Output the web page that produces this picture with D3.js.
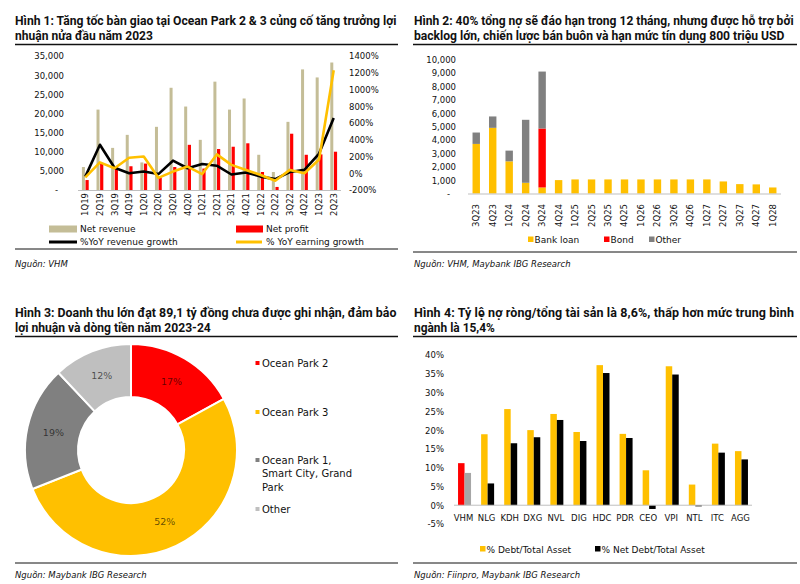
<!DOCTYPE html>
<html><head><meta charset="utf-8">
<script src="https://cdn.jsdelivr.net/npm/d3@7"></script>
<style>
html,body{margin:0;padding:0;background:#fff;}
svg{display:block;}
.ax{font-family:"DejaVu Sans",sans-serif;font-size:8.5px;fill:#111;}
.lg{font-family:"DejaVu Sans",sans-serif;font-size:9px;fill:#111;}
.src{font-family:"DejaVu Sans",sans-serif;font-size:8.5px;font-style:italic;fill:#111;}
.ttl{font-family:Roboto,"Open Sans",sans-serif;font-size:12.5px;font-weight:700;fill:#111;}
</style></head>
<body>
<svg id="c" width="800" height="584"></svg>
<script>
// ---------- Chart 1 data ----------
const quarters1 = ["1Q19","2Q19","3Q19","4Q19","1Q20","2Q20","3Q20","4Q20","1Q21","2Q21","3Q21","4Q21","1Q22","2Q22","3Q22","4Q22","1Q23","2Q23"];
const netRevenue = [6000,21000,11000,14400,7200,16500,26700,21800,13100,28300,21000,23900,9200,4700,17800,31500,29400,33300];
const netProfit  = [2600,6800,6000,6200,6900,3200,6000,11800,5600,10700,11300,12200,4700,800,14700,9200,9300,10000];
const revenueGrowth = [-40,340,65,0,20,-10,150,60,110,90,-15,10,-40,-70,15,40,235,660];
const earningGrowth = [-50,130,60,185,200,-55,20,80,-10,225,100,40,-20,-90,40,0,165,1230];
const ticksLeft1 = [0,5000,10000,15000,20000,25000,30000,35000];
const ticksRight1 = [-200,0,200,400,600,800,1000,1200,1400];

// ---------- Chart 2 data ----------
const quarters2 = ["3Q23","4Q23","1Q24","2Q24","3Q24","4Q24","1Q25","2Q25","3Q25","4Q25","1Q26","2Q26","3Q26","4Q26","1Q27","2Q27","3Q27","4Q27","1Q28"];
const bankLoan = [3700,4900,2400,800,450,1000,1050,1050,1050,1050,1050,1050,1050,1050,1050,900,700,680,450];
const bond     = [0,0,0,0,4400,0,0,0,0,0,0,0,0,0,0,0,0,0,0];
const other    = [850,850,800,4700,4250,0,0,0,0,0,0,0,0,0,0,0,0,0,0];
const ticks2 = [0,1000,2000,3000,4000,5000,6000,7000,8000,9000,10000];

// ---------- Chart 3 data ----------
const donutLabels = ["Ocean Park 2","Ocean Park 3","Ocean Park 1, Smart City, Grand Park","Other"];
const donutValues = [17,52,19,12];

// ---------- Chart 4 data ----------
const companies = ["VHM","NLG","KDH","DXG","NVL","DIG","HDC","PDR","CEO","VPI","NTL","ITC","AGG"];
const debtRatio    = [11.2,18.9,25.6,20.0,24.3,19.5,37.3,19.0,9.3,37.0,5.5,16.4,14.4];
const netDebtRatio = [8.6,5.8,16.5,18.1,22.7,17.1,35.2,17.9,-1.0,34.8,-0.3,14.0,12.2];
const ticks4 = [-5,0,5,10,15,20,25,30,35,40];

const svg = d3.select("#c");
const fmt = d3.format(",");

function title(x, y, txt, w){
  const t = svg.append("text").attr("class","ttl").attr("x",0).attr("y",0).text(txt);
  const n = t.node().getComputedTextLength();
  if (n > w) {
    t.attr("transform",`translate(${x},${y}) scale(${w/n},1)`);
  } else {
    t.attr("transform",`translate(${x},${y})`).attr("textLength", w).attr("lengthAdjust","spacing");
  }
}
function rule(x1,x2,y,sw){ svg.append("line").attr("x1",x1).attr("x2",x2).attr("y1",y).attr("y2",y).attr("stroke","#111").attr("stroke-width",sw); }
function source(x,y,txt){ svg.append("text").attr("class","src").attr("x",x).attr("y",y).text(txt); }

// ================= Chart 1 =================
title(15,25,"Hình 1: Tăng tốc bàn giao tại Ocean Park 2 & 3 củng cố tăng trưởng lợi",382);
title(15,40,"nhuận nửa đầu năm 2023",138);
rule(15,398,44.5,1.6);
{
  const x = d3.scaleBand().domain(quarters1).range([78,341]);
  const yL = d3.scaleLinear().domain([0,35000]).range([190,56]);
  const yR = d3.scaleLinear().domain([-200,1400]).range([190,56]);
  const g = svg.append("g");
  const c = q => x(q) + x.bandwidth()/2;
  g.selectAll(".rv").data(quarters1).join("rect")
    .attr("x",q=>c(q)-3.4).attr("width",3).attr("y",(q,i)=>yL(netRevenue[i])).attr("height",(q,i)=>yL(0)-yL(netRevenue[i])).attr("fill","#c4bd97");
  g.selectAll(".np").data(quarters1).join("rect")
    .attr("x",q=>c(q)+0.2).attr("width",3.2).attr("y",(q,i)=>yL(netProfit[i])).attr("height",(q,i)=>yL(0)-yL(netProfit[i])).attr("fill","#ff0000");
  g.append("line").attr("x1",78).attr("x2",341).attr("y1",190.5).attr("y2",190.5).attr("stroke","#bfbfbf");
  const ln = arr => d3.line().x((d,i)=>c(quarters1[i])).y(d=>yR(d))(arr);
  g.append("path").attr("d",ln(revenueGrowth)).attr("fill","none").attr("stroke","#000").attr("stroke-width",2.6).attr("stroke-linejoin","round");
  g.append("path").attr("d",ln(earningGrowth)).attr("fill","none").attr("stroke","#ffc000").attr("stroke-width",2.6).attr("stroke-linejoin","round");
  // left axis
  const al = g.append("g").attr("transform","translate(64,0)").call(d3.axisLeft(yL).tickValues(ticksLeft1).tickSize(0).tickPadding(0).tickFormat(d=>d===0?"-":fmt(d)));
  al.select(".domain").remove();
  al.selectAll("text").attr("class","ax").attr("dx",d=>d===0?-6:0).attr("dy","0.35em");
  const ar = g.append("g").attr("transform","translate(349,0)").call(d3.axisRight(yR).tickValues(ticksRight1).tickSize(0).tickPadding(0).tickFormat(d=>d+"%"));
  ar.select(".domain").remove();
  ar.selectAll("text").attr("class","ax").attr("dy","0.35em");
  const ax = g.append("g").attr("transform","translate(0,193)").call(d3.axisBottom(x).tickSize(0).tickPadding(0));
  ax.select(".domain").remove();
  ax.selectAll("text").attr("class","ax").attr("transform","rotate(-90)").attr("text-anchor","end").attr("x",0).attr("y",0).attr("dy","0.35em");
  // legend
  g.append("rect").attr("x",49).attr("y",225.5).attr("width",28).attr("height",7).attr("fill","#c4bd97");
  g.append("text").attr("class","lg").attr("x",80).attr("y",232).text("Net revenue");
  g.append("rect").attr("x",236).attr("y",225.5).attr("width",27).attr("height",7).attr("fill","#ff0000");
  g.append("text").attr("class","lg").attr("x",266).attr("y",232).text("Net profit");
  g.append("line").attr("x1",49).attr("x2",77).attr("y1",242).attr("y2",242).attr("stroke","#000").attr("stroke-width",3);
  g.append("text").attr("class","lg").attr("x",80).attr("y",245).text("%YoY revenue growth");
  g.append("line").attr("x1",236).attr("x2",262).attr("y1",242).attr("y2",242).attr("stroke","#ffc000").attr("stroke-width",3);
  g.append("text").attr("class","lg").attr("x",266).attr("y",245).text("% YoY earning growth");
}
rule(15,398,249,1);
source(15,267,"Nguồn: VHM");

// ================= Chart 2 =================
title(414,25,"Hình 2: 40% tổng nợ sẽ đáo hạn trong 12 tháng, nhưng được hỗ trợ bởi",380);
title(414,40,"backlog lớn, chiến lược bán buôn và hạn mức tín dụng 800 triệu USD",371);
rule(413,797,44.5,1.6);
{
  const x = d3.scaleBand().domain(quarters2).range([468,781]).paddingInner(0.55).paddingOuter(0.275);
  const y = d3.scaleLinear().domain([0,10000]).range([193.5,59.5]);
  const g = svg.append("g");
  const keys = ["bankLoan","bond","other"];
  const rows = quarters2.map((q,i)=>({q, bankLoan:bankLoan[i], bond:bond[i], other:other[i]}));
  const stack = d3.stack().keys(keys)(rows);
  const col = {bankLoan:"#ffc000", bond:"#ff0000", other:"#808080"};
  stack.forEach(s=>{
    g.selectAll(null).data(s).join("rect")
      .attr("x",d=>x(d.data.q)).attr("width",x.bandwidth())
      .attr("y",d=>y(d[1])).attr("height",d=>y(d[0])-y(d[1])).attr("fill",col[s.key]);
  });
  g.append("line").attr("x1",468).attr("x2",781).attr("y1",194).attr("y2",194).attr("stroke","#bfbfbf");
  const al = g.append("g").attr("transform","translate(456,0)").call(d3.axisLeft(y).tickValues(ticks2).tickSize(0).tickPadding(0).tickFormat(d=>d===0?"-":fmt(d)));
  al.select(".domain").remove();
  al.selectAll("text").attr("class","ax").attr("dx",d=>d===0?-6:0).attr("dy","0.35em");
  const ax = g.append("g").attr("transform","translate(0,204)").call(d3.axisBottom(x).tickSize(0).tickPadding(0));
  ax.select(".domain").remove();
  ax.selectAll("text").attr("class","ax").attr("transform","rotate(-90)").attr("text-anchor","end").attr("x",0).attr("y",0).attr("dy","0.35em");
  const lg = [["Bank loan","#ffc000",528],["Bond","#ff0000",604],["Other","#808080",649]];
  lg.forEach(([t,cl,lx])=>{
    g.append("rect").attr("x",lx).attr("y",236.5).attr("width",5.5).attr("height",5.5).attr("fill",cl);
    g.append("text").attr("class","lg").attr("x",lx+6.5).attr("y",243).text(t);
  });
}
rule(413,797,252,1);
source(414,267,"Nguồn: VHM, Maybank IBG Research");

// ================= Chart 3 =================
title(15,317,"Hình 3: Doanh thu lớn đạt 89,1 tỷ đồng chưa được ghi nhận, đảm bảo",382);
title(15,332,"lợi nhuận và dòng tiền năm 2023-24",196);
rule(15,398,336.5,1.6);
{
  const colors = ["#ff0000","#ffc000","#808080","#bfbfbf"];
  const pie = d3.pie().sort(null).value(d=>d)(donutValues);
  const arc = d3.arc().innerRadius(53).outerRadius(106);
  const g = svg.append("g").attr("transform","translate(131,450)");
  g.selectAll("path").data(pie).join("path").attr("d",arc).attr("fill",(d,i)=>colors[i]).attr("stroke","#fff").attr("stroke-width",2);
  g.selectAll("text").data(pie).join("text")
    .attr("x",d=>arc.centroid(d)[0]).attr("y",d=>arc.centroid(d)[1]).attr("dy","0.35em").attr("text-anchor","middle")
    .style("font-family","'DejaVu Sans',sans-serif").style("font-size","9.5px").attr("fill","rgba(0,0,0,0.62)")
    .text(d=>d.data+"%");
  const lines = [[["Ocean Park 2"],363],[["Ocean Park 3"],412],[["Ocean Park 1,","Smart City, Grand","Park"],460],[["Other"],509]];
  lines.forEach(([ls,ly],i)=>{
    svg.append("rect").attr("x",255.5).attr("y",ly-2).attr("width",4).attr("height",4).attr("fill",colors[i]);
    ls.forEach((t,j)=>svg.append("text").attr("x",262).attr("y",ly+13.5*j).attr("dy","0.36em")
      .style("font-family","'DejaVu Sans',sans-serif").style("font-size","10px").attr("fill","#111").text(t));
  });
}
rule(15,398,563,1);
source(15,578,"Nguồn: Maybank IBG Research");

// ================= Chart 4 =================
title(414,317,"Hình 4: Tỷ lệ nợ ròng/tổng tài sản là 8,6%, thấp hơn mức trung bình",380);
title(414,332,"ngành là 15,4%",81);
rule(413,797,336.5,1.6);
{
  const x = d3.scaleBand().domain(companies).range([452,752]);
  const y = d3.scaleLinear().domain([-5,40]).range([524,355]);
  const g = svg.append("g");
  const c = q => x(q)+x.bandwidth()/2;
  g.selectAll(".d").data(companies).join("rect")
    .attr("x",q=>c(q)-5.5).attr("width",6.5)
    .attr("y",(q,i)=>y(Math.max(0,debtRatio[i]))).attr("height",(q,i)=>Math.abs(y(debtRatio[i])-y(0)))
    .attr("fill",(q,i)=>i===0?"#ff0000":"#ffc000");
  g.selectAll(".n").data(companies).join("rect")
    .attr("x",q=>c(q)+1).attr("width",6.5)
    .attr("y",(q,i)=>y(Math.max(0,netDebtRatio[i]))).attr("height",(q,i)=>Math.abs(y(netDebtRatio[i])-y(0)))
    .attr("fill",(q,i)=>i===0?"#a6a6a6":"#000");
  g.append("line").attr("x1",454).attr("x2",752).attr("y1",y(0)).attr("y2",y(0)).attr("stroke","#bfbfbf");
  const al = g.append("g").attr("transform","translate(444,0)").call(d3.axisLeft(y).tickValues(ticks4).tickSize(0).tickPadding(0).tickFormat(d=>d+"%"));
  al.select(".domain").remove();
  al.selectAll("text").attr("class","ax").attr("dy","0.35em");
  const ax = g.append("g").attr("transform","translate(0,518)").call(d3.axisBottom(x).tickSize(0).tickPadding(0));
  ax.select(".domain").remove();
  ax.selectAll("text").attr("class","ax").style("font-size","8.5px").attr("y",0).attr("dy","0.35em");
  const lg = [["% Debt/Total Asset","#ffc000",480],["% Net Debt/Total Asset","#000",595]];
  lg.forEach(([t,cl,lx])=>{
    g.append("rect").attr("x",lx).attr("y",546).attr("width",5.5).attr("height",5.5).attr("fill",cl);
    g.append("text").attr("class","lg").attr("x",lx+6.5).attr("y",552.5).text(t);
  });
}
rule(413,797,563,1);
source(414,578,"Nguồn: Fiinpro, Maybank IBG Research");
</script>
</body></html>
